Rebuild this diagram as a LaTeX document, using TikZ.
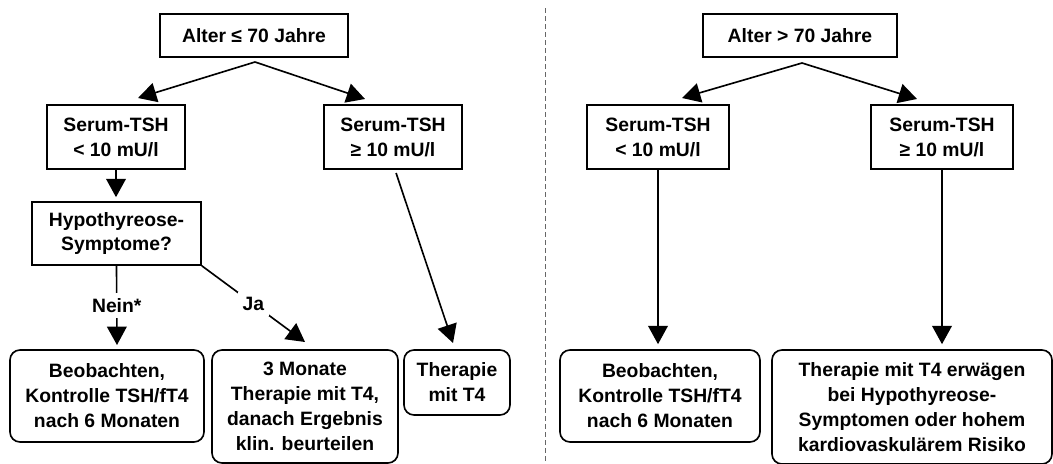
\documentclass[tikz,border=0pt]{standalone}
\usepackage{fontspec}
\setmainfont{Liberation Sans}
\usepackage{tikz}
\usetikzlibrary{arrows.meta}

\begin{document}
\begin{tikzpicture}[x=0.3mm, y=-0.3mm,
    every node/.style={font=\fontsize{16.5}{21.3}\selectfont\bfseries, align=center, inner sep=0pt},
    sqbox/.style={draw, line width=1.4pt},
    rdbox/.style={draw, line width=1.4pt, rounded corners=3mm},
    arr/.style={line width=1.4pt, -{Triangle[length=5.5mm, width=5.9mm]}},
    lbl/.style={fill=white, inner sep=1.5mm}]
    \useasboundingbox (0,0) rectangle (1053,464);

    % linke Seite
    \node[sqbox, minimum width=56.4mm, minimum height=12.9mm] (alt1) at (254,35.5) {Alter ≤ 70 Jahre};
    \node[sqbox, minimum width=41.4mm, minimum height=19.2mm] (tsh1) at (116,137) {Serum-TSH\\< 10 mU/l};
    \node[sqbox, minimum width=41.4mm, minimum height=19.2mm] (tsh2) at (393,137) {Serum-TSH\\≥ 10 mU/l};
    \node[sqbox, minimum width=50.7mm, minimum height=18.9mm] (hyp) at (116.5,233.5) {Hypothyreose-\\Symptome?};
    \node[rdbox, minimum width=58.2mm, minimum height=27.6mm] (obs1) at (107,396) {Beobachten,\\Kontrolle TSH/fT4\\nach 6 Monaten};
    \node[rdbox, minimum width=55.8mm, minimum height=33.9mm] (mon) at (305,406.5) {3 Monate\\Therapie mit T4,\\danach Ergebnis\\klin. beurteilen};
    \node[rdbox, minimum width=31.8mm, minimum height=19.5mm] (thr) at (457,382.5) {Therapie\\mit T4};

    % rechte Seite
    \node[sqbox, minimum width=58.2mm, minimum height=12.9mm] (alt2) at (800,35.5) {Alter > 70 Jahre};
    \node[sqbox, minimum width=42.6mm, minimum height=19.2mm] (tsh3) at (658,137) {Serum-TSH\\< 10 mU/l};
    \node[sqbox, minimum width=42.6mm, minimum height=19.2mm] (tsh4) at (942,137) {Serum-TSH\\≥ 10 mU/l};
    \node[rdbox, minimum width=60mm, minimum height=27.6mm] (obs2) at (660,396) {Beobachten,\\Kontrolle TSH/fT4\\nach 6 Monaten};
    \node[rdbox, minimum width=84mm, minimum height=34.2mm] (erw) at (912,407) {Therapie mit T4 erwägen\\bei Hypothyreose-\\Symptomen oder hohem\\kardiovaskulärem Risiko};

    \coordinate (s1) at (255,62);
    \coordinate (e1) at (138,98);
    \coordinate (e2) at (365,99);
    \coordinate (e3) at (117,345);
    \coordinate (e4) at (305,342);
    \coordinate (e5) at (453,343);
    \coordinate (s2) at (802,63);
    \coordinate (e6) at (682,98);
    \coordinate (e7) at (917,99);

    \draw[arr] (s1) -- (e1);
    \draw[arr] (s1) -- (e2);
    \draw[arr, shorten >=1.2mm] (tsh1.south) -- (tsh1.south |- hyp.north);
    \draw[arr] (hyp.south) -- node[lbl] (nein) {Nein*} (e3);
    \draw[arr] (hyp.south east) -- node[lbl] (ja) {Ja} (e4);
    \draw[arr, shorten <=1mm] ([xshift=0.6mm]tsh2.south) -- (e5);
    \draw[arr] (s2) -- (e6);
    \draw[arr] (s2) -- (e7);
    \draw[arr, shorten >=1.5mm] (tsh3.south) -- (tsh3.south |- obs2.north);
    \draw[arr, shorten >=1.5mm] (tsh4.south) -- (tsh4.south |- erw.north);

    \draw[black!60, line width=0.7pt, dash pattern=on 1.5mm off 0.9mm] (545,8) -- (545,464);
\end{tikzpicture}
\end{document}
